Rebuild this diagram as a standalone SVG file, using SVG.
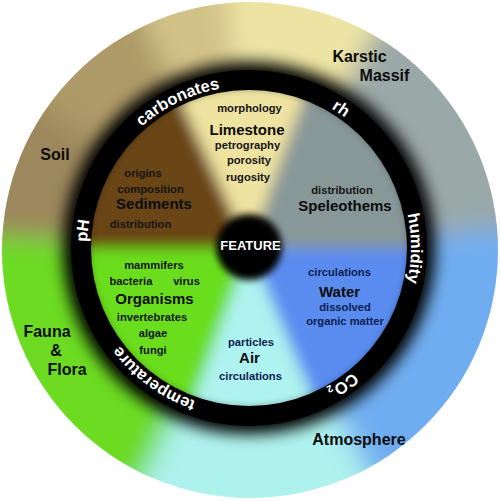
<svg xmlns="http://www.w3.org/2000/svg" xmlns:xlink="http://www.w3.org/1999/xlink" width="500" height="501" viewBox="0 0 500 501">
<style>
text{font-family:"Liberation Sans",Arial,sans-serif;font-weight:bold;text-anchor:middle}
.s{font-size:11.2px;fill:#141414}
.t{font-size:15px;fill:#0c0c0c}
.o{font-size:16px;fill:#0c0c0c}
.w{fill:#0e1c52}
.r{font-size:16.5px;fill:#ffffff}
</style>
<defs>
<clipPath id="outerClip"><circle cx="250" cy="250" r="248"/></clipPath>
<clipPath id="innerClip"><circle cx="249" cy="248" r="158"/></clipPath>
<filter id="blurWide" x="-30%" y="-30%" width="160%" height="160%"><feGaussianBlur stdDeviation="13"/></filter>
<filter id="blurMid" x="-30%" y="-30%" width="160%" height="160%"><feGaussianBlur stdDeviation="7"/></filter>
<filter id="blurShadow" x="-20%" y="-20%" width="140%" height="140%"><feGaussianBlur stdDeviation="7.5"/></filter>
<filter id="blurEdge" x="-30%" y="-30%" width="160%" height="160%"><feGaussianBlur stdDeviation="3.5"/></filter>
<path id="ringPath" d="M87,248 A162,162 0 1 1 411,248 A162,162 0 1 1 87,248"/>
</defs>

<g id="outer-ring" clip-path="url(#outerClip)">
<g filter="url(#blurWide)">
<path d="M250,250 L114.8,540 A320,320 0 0 1 -69.6,233.3 Z" fill="#6cdb22"/>
<path d="M250,250 L-69.6,233.3 A320,320 0 0 1 -12.1,66.4 Z" fill="#9c885c"/>
<path d="M250,250 L-12.1,66.4 A320,320 0 0 1 114.8,-40 Z" fill="#ae9a68"/>
<path d="M250,250 L114.8,-40 A320,320 0 0 1 222.1,-68.8 Z" fill="#d2c288"/>
<path d="M250,250 L222.1,-68.8 A320,320 0 0 1 410,-27.1 Z" fill="#ede4a4"/>
<path d="M250,250 L410,-27.1 A320,320 0 0 1 568.8,222.1 Z" fill="#9aa8a7"/>
<path d="M250,250 L568.8,222.1 A320,320 0 0 1 400.2,532.5 Z" fill="#70adf0"/>
<path d="M250,250 L400.2,532.5 A320,320 0 0 1 114.8,540 Z" fill="#aef2ee"/>
</g>
</g>

<g id="black-ring">
<circle cx="249" cy="248" r="173" fill="none" stroke="#000" stroke-width="26" filter="url(#blurShadow)"/>
<circle cx="249" cy="248" r="167.5" fill="none" stroke="#000" stroke-width="21"/>
</g>

<g id="inner-disk" clip-path="url(#innerClip)">
<g filter="url(#blurMid)">
<path d="M249,248 L569,248 A320,320 0 0 1 374,542.6 Z" fill="#5a8cf0"/>
<path d="M249,248 L374,542.6 A320,320 0 0 1 139.6,548.7 Z" fill="#aef3ef"/>
<path d="M249,248 L139.6,548.7 A320,320 0 0 1 -71,248 Z" fill="#6ade1c"/>
<path d="M249,248 L-71,248 A320,320 0 0 1 113.8,-42 Z" fill="#6a4414"/>
<path d="M249,248 L113.8,-42 A320,320 0 0 1 358.4,-52.7 Z" fill="#efe3a1"/>
<path d="M249,248 L358.4,-52.7 A320,320 0 0 1 569,248 Z" fill="#889898"/>
</g>
<circle cx="249" cy="248" r="166" fill="none" stroke="#000" stroke-width="14" opacity="0.35" filter="url(#blurEdge)"/>
</g>

<g id="ring-labels">
<text class="r"><textPath xlink:href="#ringPath" startOffset="17">pH</textPath></text>
<text class="r"><textPath xlink:href="#ringPath" startOffset="181">carbonates</textPath></text>
<text class="r"><textPath xlink:href="#ringPath" startOffset="349">rh</textPath></text>
<text class="r"><textPath xlink:href="#ringPath" startOffset="509">humidity</textPath></text>
<text class="r"><textPath xlink:href="#ringPath" startOffset="666">CO<tspan font-size="10" dx="1" dy="3">2</tspan></textPath></text>
<text class="r"><textPath xlink:href="#ringPath" startOffset="865">temperature</textPath></text>
</g>

<g id="feature">
<circle cx="249" cy="247" r="33" fill="#000" filter="url(#blurEdge)"/>
<text x="250.5" y="250" style="font-size:13px;fill:#fff">FEATURE</text>
</g>

<g id="limestone">
<text class="s" x="249.5" y="112">morphology</text>
<text class="t" x="247" y="135">Limestone</text>
<text class="s" x="247.5" y="149">petrography</text>
<text class="s" x="249" y="164">porosity</text>
<text class="s" x="248" y="181">rugosity</text>
</g>

<g id="sediments">
<text class="s" x="143" y="177">origins</text>
<text class="s" x="150.5" y="193">composition</text>
<text class="t" x="154" y="209">Sediments</text>
<text class="s" x="140.5" y="228">distribution</text>
</g>

<g id="speleothems">
<text class="s" x="342" y="194">distribution</text>
<text class="t" x="345" y="211">Speleothems</text>
</g>

<g id="organisms">
<text class="s" x="154" y="269">mammifers</text>
<text class="s" x="131" y="285">bacteria</text>
<text class="s" x="186.5" y="285">virus</text>
<text class="t" x="154.5" y="304">Organisms</text>
<text class="s" x="152" y="321">invertebrates</text>
<text class="s" x="153" y="336.5">algae</text>
<text class="s" x="153" y="353.5">fungi</text>
</g>

<g id="air">
<text class="s w" x="251" y="346">particles</text>
<text class="t" x="249.5" y="363">Air</text>
<text class="s w" x="250.5" y="380">circulations</text>
</g>

<g id="water">
<text class="s w" x="339.5" y="276">circulations</text>
<text class="t" x="339.5" y="297">Water</text>
<text class="s w" x="345" y="311">dissolved</text>
<text class="s w" x="345" y="325">organic matter</text>
</g>

<g id="soil"><text class="o" x="55" y="160">Soil</text></g>
<g id="karstic-massif">
<text class="o" x="359.5" y="62">Karstic</text>
<text class="o" x="384.5" y="81">Massif</text>
</g>
<g id="fauna-flora">
<text class="o" x="47" y="337">Fauna</text>
<text class="o" x="56" y="356">&amp;</text>
<text class="o" x="67" y="375">Flora</text>
</g>
<g id="atmosphere"><text class="o" x="359" y="445">Atmosphere</text></g>
</svg>
